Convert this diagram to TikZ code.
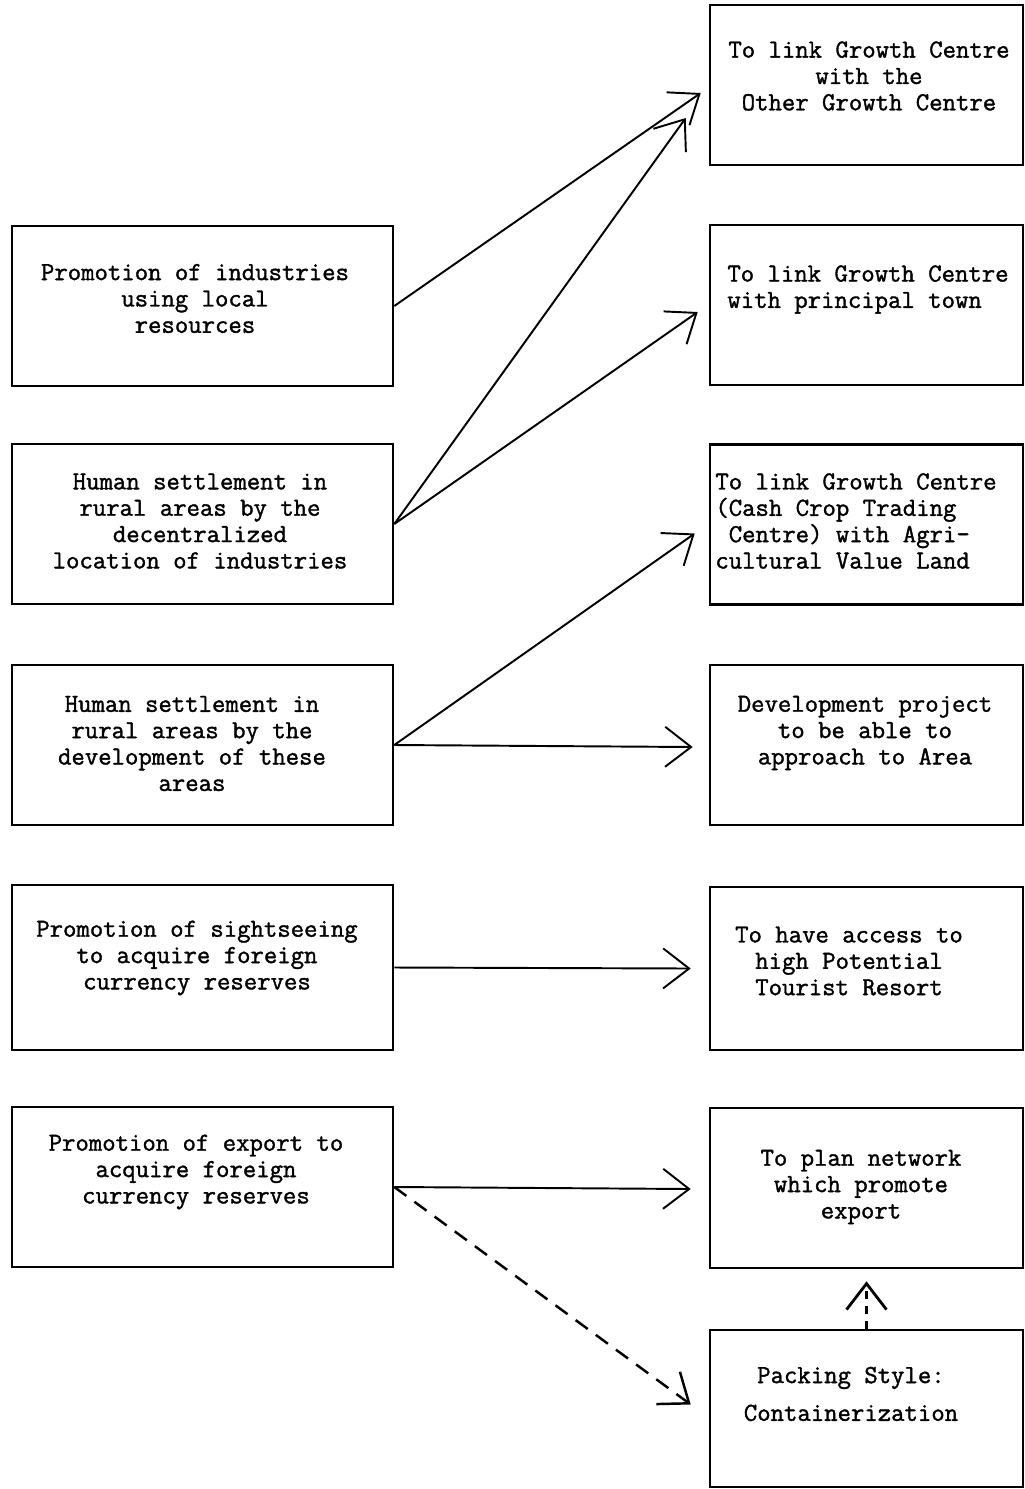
\documentclass[tikz,border=0pt]{standalone}
\usepackage{fontspec}
\newfontfamily\boxfont{lmmono12-regular.otf}[FakeBold = 1.4]
\usetikzlibrary{arrows.meta}
\usetikzlibrary{calc}
\tikzset{box/.style = {draw, line width = 1.5pt, minimum width = 7.62cm,
                       minimum height = 3.2cm, inner sep = 0}}
\tikzset{rbox/.style = {box, minimum width = 6.26cm}}
\tikzset{txt/.style = {align = center, inner sep = 0,
                       font = \boxfont\fontsize{14.8}{15}\selectfont}}
\tikzset{link/.style = {-{Straight Barb[length = 0.52cm, width = 0.8cm]}, line width = 1.1pt}}
\tikzset{dlink/.style = {link, line width = 1.4pt, dash pattern = on 0.3cm off 0.2cm}}

\begin{document}
\begin{tikzpicture}[x = 0.02cm, y = -0.02cm]
      \useasboundingbox (0, 0) rectangle (1025, 1489);

      \node [box] (ind) at (202.5, 306) {};
      \node [box] (setind) at (202.5, 524) {};
      \node [box] (setdev) at (202.5, 745) {};
      \node [box, minimum height = 3.3cm] (sight) at (202.5, 967.5) {};
      \node [box] (export) at (202.5, 1187) {};

      \node [rbox] (gcgc) at (866.5, 85) {};
      \node [rbox] (gctown) at (866.5, 305) {};
      \node [rbox] (gcagri) at (866.5, 524.5) {};
      \node [rbox] (devproj) at (866.5, 745) {};
      \node [rbox, minimum height = 3.26cm] (tourist) at (866.5, 968.5) {};
      \node [rbox] (plannet) at (866.5, 1188) {};
      \node [rbox, minimum height = 3.14cm] (packing) at (866.5, 1408.5) {};

      \node [txt] (ind-t) at (195, 298.5) {Promotion of industries\\using local\\resources};
      \node [txt] (setind-t) at (200, 521) {Human settlement in\\rural areas by the\\decentralized\\location of industries};
      \node [txt] (setdev-t) at (192, 743.5) {Human settlement in\\rural areas by the\\development of these\\areas};
      \node [txt] (sight-t) at (197, 958) {Promotion of sightseeing\\to acquire foreign\\currency reserves};
      \node [txt] (export-t) at (196, 1172) {Promotion of export to\\acquire foreign\\currency reserves};

      \node [txt] (gcgc-t) at (869, 76) {To link Growth Centre\\with the\\Other Growth Centre};
      \node [txt, align = left] (gctown-t) at (868, 289.5) {To link Growth Centre\\with principal town};
      \node [txt, align = left] (gcagri-t) at (856, 521) {To link Growth Centre\\(Cash Crop Trading\\~Centre) with Agri-\\cultural Value Land};
      \node [txt] (devproj-t) at (865, 733) {Development project\\to be able to\\approach to Area};
      \node [txt] (tourist-t) at (849, 961) {To have access to\\high Potential\\Tourist Resort};
      \node [txt] (plannet-t) at (861, 1187) {To plan network\\which promote\\export};
      \node [txt] (packing-t) at (851, 1394) {Packing Style:\\[6.5pt]Containerization};

      \draw [link] (ind.east) -- ($(gcgc.west) + (-8, 8)$);
      \draw [link] (setind.east) -- ($(gcgc.west) + (-23, 33)$);
      \draw [link] (setind.east) -- ($(gctown.west) + (-11, 7)$);
      \draw [link] (setdev.east) -- ($(gcagri.west) + (-14, 9)$);
      \draw [link] (setdev.east) -- ($(devproj.west) + (-16, 2)$);
      \draw [link] (sight.east) -- ($(tourist.west) + (-18, 0)$);
      \draw [link] (export.east) -- ($(plannet.west) + (-18, 1)$);
      \draw [dlink] (export.east) -- ($(packing.west) + (-18, -4)$);
      \draw [dlink, line width = 1.6pt, dash pattern = on 0.16cm off 0.14cm] (packing.north) -- ($(plannet.south) + (0, 12)$);
\end{tikzpicture}
\end{document}
